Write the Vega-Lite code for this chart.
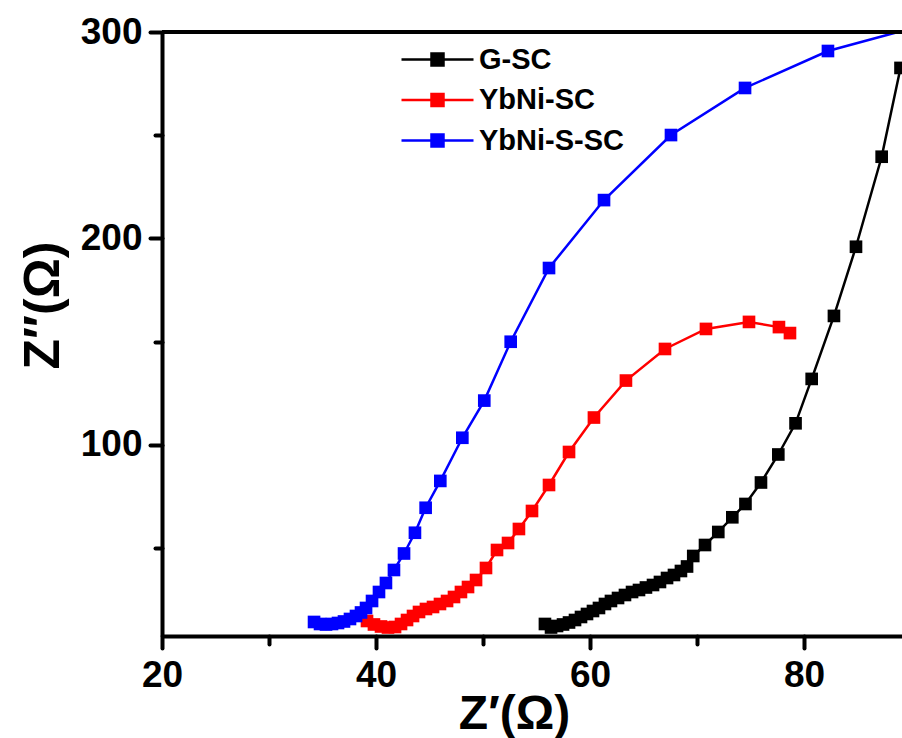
{
  "$schema": "https://vega.github.io/schema/vega-lite/v6.json",
  "width": 740,
  "height": 604,
  "autosize": {"type": "none"},
  "padding": {"left": 162, "top": 32, "right": 0, "bottom": 102},
  "background": "white",
  "config": {"view": {"stroke": null}, "font": "Liberation Sans"},
  "data": {
    "values": [
      {"s": "G-SC", "x": 55.79, "y": 13.32},
      {"s": "G-SC", "x": 56.36, "y": 11.62},
      {"s": "G-SC", "x": 56.92, "y": 12.35},
      {"s": "G-SC", "x": 57.48, "y": 13.08},
      {"s": "G-SC", "x": 58.04, "y": 14.04},
      {"s": "G-SC", "x": 58.6, "y": 15.25},
      {"s": "G-SC", "x": 59.16, "y": 16.71},
      {"s": "G-SC", "x": 59.72, "y": 18.16},
      {"s": "G-SC", "x": 60.28, "y": 19.61},
      {"s": "G-SC", "x": 60.84, "y": 21.07},
      {"s": "G-SC", "x": 61.4, "y": 23.0},
      {"s": "G-SC", "x": 61.96, "y": 24.46},
      {"s": "G-SC", "x": 62.62, "y": 25.91},
      {"s": "G-SC", "x": 63.27, "y": 27.36},
      {"s": "G-SC", "x": 63.93, "y": 28.81},
      {"s": "G-SC", "x": 64.58, "y": 29.78},
      {"s": "G-SC", "x": 65.23, "y": 30.99},
      {"s": "G-SC", "x": 65.89, "y": 32.2},
      {"s": "G-SC", "x": 66.54, "y": 33.66},
      {"s": "G-SC", "x": 67.2, "y": 35.59},
      {"s": "G-SC", "x": 67.85, "y": 37.05},
      {"s": "G-SC", "x": 68.5, "y": 38.98},
      {"s": "G-SC", "x": 69.07, "y": 41.16},
      {"s": "G-SC", "x": 69.65, "y": 46.25},
      {"s": "G-SC", "x": 70.75, "y": 51.57},
      {"s": "G-SC", "x": 71.99, "y": 57.87},
      {"s": "G-SC", "x": 73.3, "y": 64.99},
      {"s": "G-SC", "x": 74.53, "y": 71.43},
      {"s": "G-SC", "x": 75.98, "y": 81.84},
      {"s": "G-SC", "x": 77.6, "y": 95.4},
      {"s": "G-SC", "x": 79.21, "y": 110.5},
      {"s": "G-SC", "x": 80.72, "y": 132.0},
      {"s": "G-SC", "x": 82.8, "y": 162.5},
      {"s": "G-SC", "x": 84.86, "y": 196.0},
      {"s": "G-SC", "x": 87.26, "y": 239.6},
      {"s": "G-SC", "x": 89.02, "y": 282.6},
      {"s": "YbNi-SC", "x": 39.16, "y": 14.77},
      {"s": "YbNi-SC", "x": 39.81, "y": 13.08},
      {"s": "YbNi-SC", "x": 40.47, "y": 12.11},
      {"s": "YbNi-SC", "x": 41.12, "y": 11.62},
      {"s": "YbNi-SC", "x": 41.78, "y": 11.86},
      {"s": "YbNi-SC", "x": 42.34, "y": 13.32},
      {"s": "YbNi-SC", "x": 42.9, "y": 15.25},
      {"s": "YbNi-SC", "x": 43.46, "y": 17.19},
      {"s": "YbNi-SC", "x": 44.02, "y": 19.13},
      {"s": "YbNi-SC", "x": 44.67, "y": 20.58},
      {"s": "YbNi-SC", "x": 45.33, "y": 21.55},
      {"s": "YbNi-SC", "x": 45.98, "y": 23.0},
      {"s": "YbNi-SC", "x": 46.64, "y": 24.46},
      {"s": "YbNi-SC", "x": 47.29, "y": 26.39},
      {"s": "YbNi-SC", "x": 47.94, "y": 28.81},
      {"s": "YbNi-SC", "x": 48.6, "y": 31.23},
      {"s": "YbNi-SC", "x": 49.35, "y": 34.62},
      {"s": "YbNi-SC", "x": 50.28, "y": 40.44},
      {"s": "YbNi-SC", "x": 51.31, "y": 49.15},
      {"s": "YbNi-SC", "x": 52.34, "y": 52.54},
      {"s": "YbNi-SC", "x": 53.36, "y": 59.32},
      {"s": "YbNi-SC", "x": 54.58, "y": 68.04},
      {"s": "YbNi-SC", "x": 56.17, "y": 80.63},
      {"s": "YbNi-SC", "x": 58.04, "y": 96.61},
      {"s": "YbNi-SC", "x": 60.37, "y": 113.3},
      {"s": "YbNi-SC", "x": 63.36, "y": 131.2},
      {"s": "YbNi-SC", "x": 67.01, "y": 146.5},
      {"s": "YbNi-SC", "x": 70.84, "y": 156.2},
      {"s": "YbNi-SC", "x": 74.86, "y": 159.6},
      {"s": "YbNi-SC", "x": 77.66, "y": 157.1},
      {"s": "YbNi-SC", "x": 78.69, "y": 154.2},
      {"s": "YbNi-S-SC", "x": 34.21, "y": 14.29},
      {"s": "YbNi-S-SC", "x": 34.77, "y": 13.32},
      {"s": "YbNi-S-SC", "x": 35.33, "y": 13.08},
      {"s": "YbNi-S-SC", "x": 35.89, "y": 13.32},
      {"s": "YbNi-S-SC", "x": 36.45, "y": 13.8},
      {"s": "YbNi-S-SC", "x": 37.01, "y": 14.53},
      {"s": "YbNi-S-SC", "x": 37.57, "y": 15.74},
      {"s": "YbNi-S-SC", "x": 38.13, "y": 17.19},
      {"s": "YbNi-S-SC", "x": 38.6, "y": 18.89},
      {"s": "YbNi-S-SC", "x": 39.07, "y": 21.07},
      {"s": "YbNi-S-SC", "x": 39.63, "y": 24.46},
      {"s": "YbNi-S-SC", "x": 40.28, "y": 28.81},
      {"s": "YbNi-S-SC", "x": 40.93, "y": 33.17},
      {"s": "YbNi-S-SC", "x": 41.68, "y": 39.47},
      {"s": "YbNi-S-SC", "x": 42.62, "y": 47.46},
      {"s": "YbNi-S-SC", "x": 43.64, "y": 57.5},
      {"s": "YbNi-S-SC", "x": 44.64, "y": 69.6},
      {"s": "YbNi-S-SC", "x": 46.01, "y": 82.6},
      {"s": "YbNi-S-SC", "x": 48.07, "y": 103.5},
      {"s": "YbNi-S-SC", "x": 50.12, "y": 121.5},
      {"s": "YbNi-S-SC", "x": 52.59, "y": 150.0},
      {"s": "YbNi-S-SC", "x": 56.17, "y": 185.7},
      {"s": "YbNi-S-SC", "x": 61.31, "y": 218.6},
      {"s": "YbNi-S-SC", "x": 67.57, "y": 250.1},
      {"s": "YbNi-S-SC", "x": 74.49, "y": 272.9},
      {"s": "YbNi-S-SC", "x": 82.24, "y": 290.8},
      {"s": "YbNi-S-SC", "x": 90.84, "y": 302.9}
    ]
  },
  "layer": [
    {
      "mark": {"type": "line", "strokeWidth": 2.5, "clip": true},
      "encoding": {
        "x": {
          "field": "x", "type": "quantitative",
          "scale": {"domain": [20, 89.16], "nice": false, "zero": false},
          "axis": {
            "title": "Z′(Ω)",
            "values": [20, 30, 40, 50, 60, 70, 80],
            "labelExpr": "datum.value % 20 === 0 ? datum.label : ''",
            "grid": false,
            "domainColor": "black", "domainWidth": 4,
            "tickColor": "black", "tickWidth": 4, "tickCap": "round",
            "tickSize": {"condition": {"test": "datum.value % 20 === 0", "value": 12}, "value": 8},
            "labelFont": "Liberation Sans", "labelFontSize": 37, "labelFontWeight": "bold", "labelColor": "black",
            "labelPadding": 9, "labelFlush": false, "labelOverlap": false,
            "titleFont": "Liberation Sans", "titleFontSize": 48, "titleFontWeight": "bold", "titleColor": "black",
            "titleX": 352, "titleY": 92, "titleBaseline": "alphabetic", "titleAlign": "center"
          }
        },
        "y": {
          "field": "y", "type": "quantitative",
          "scale": {"domain": [7.5, 300], "nice": false, "zero": false},
          "axis": {
            "title": "Z″(Ω)",
            "values": [50, 100, 150, 200, 250, 300],
            "labelExpr": "datum.value % 100 === 0 ? datum.label : ''",
            "grid": false,
            "domainColor": "black", "domainWidth": 4,
            "tickColor": "black", "tickWidth": 4, "tickCap": "round",
            "tickSize": {"condition": {"test": "datum.value % 100 === 0", "value": 12}, "value": 7},
            "labelFont": "Liberation Sans", "labelFontSize": 37, "labelFontWeight": "bold", "labelColor": "black",
            "labelPadding": 8, "labelFlush": false, "labelOverlap": false,
            "titleFont": "Liberation Sans", "titleFontSize": 50, "titleFontWeight": "bold", "titleColor": "black",
            "titleX": -104, "titleY": 273, "titleAngle": -90, "titleBaseline": "alphabetic", "titleAlign": "center"
          }
        },
        "color": {
          "field": "s", "type": "nominal",
          "scale": {"domain": ["G-SC", "YbNi-SC", "YbNi-S-SC"], "range": ["#000000", "#ff0000", "#0000ff"]},
          "legend": {
            "title": null,
            "orient": "none", "legendX": 254, "legendY": 6,
            "padding": 0, "rowPadding": 3.5,
            "symbolType": "M-1.8,0H1.8M-0.3,-0.3H0.3V0.3H-0.3Z",
            "symbolSize": 1600, "symbolStrokeWidth": 2.5,
            "labelFont": "Liberation Sans", "labelFontSize": 29, "labelFontWeight": "bold", "labelColor": "black",
            "labelOffset": 20,
            "encode": {
              "symbols": {
                "update": {
                  "fill": {"scale": "color", "field": "value"},
                  "stroke": {"scale": "color", "field": "value"},
                  "fillOpacity": {"value": 1},
                  "strokeWidth": {"value": 2.5}
                }
              }
            }
          }
        }
      }
    },
    {
      "mark": {"type": "point", "shape": "square", "filled": true, "size": 160, "opacity": 1, "clip": true},
      "encoding": {
        "x": {"field": "x", "type": "quantitative"},
        "y": {"field": "y", "type": "quantitative"},
        "color": {"field": "s", "type": "nominal"}
      }
    },
    {
      "mark": {"type": "rule", "color": "black", "strokeWidth": 4},
      "encoding": {"y": {"datum": 300}}
    }
  ]
}
